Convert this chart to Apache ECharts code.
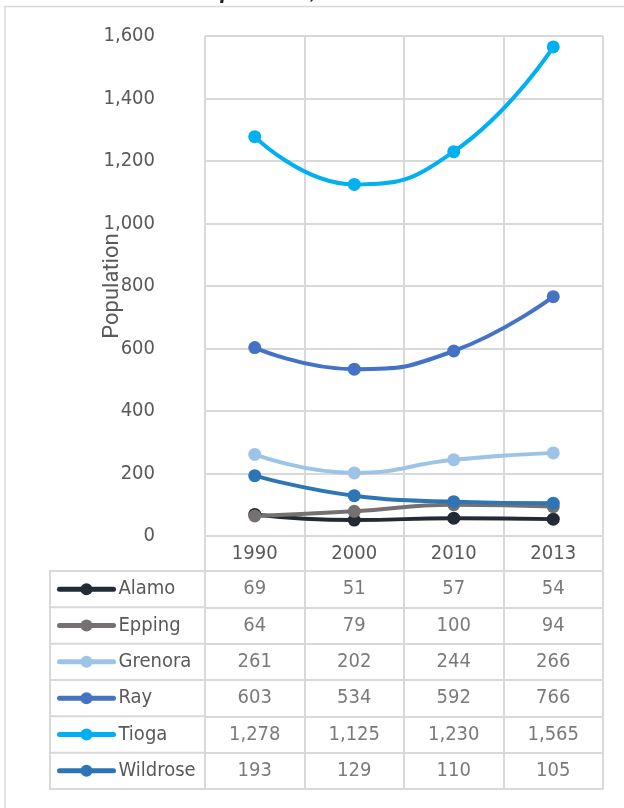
<!DOCTYPE html>
<html>
<head>
<meta charset="utf-8">
<script src="https://cdn.jsdelivr.net/npm/echarts@6/dist/echarts.min.js"></script>
<style>
  html, body { margin: 0; padding: 0; background: #fff; }
  #chart { width: 624px; height: 808px; }
</style>
</head>
<body>
<div id="chart"></div>
<script>
// data
var years = ['1990', '2000', '2010', '2013'];
var towns = ['Alamo', 'Epping', 'Grenora', 'Ray', 'Tioga', 'Wildrose'];
var alamo = [69, 51, 57, 54];
var epping = [64, 79, 100, 94];
var grenora = [261, 202, 244, 266];
var ray = [603, 534, 592, 766];
var tioga = [1278, 1125, 1230, 1565];
var wildrose = [193, 129, 110, 105];
var yTicks = [0, 200, 400, 600, 800, 1000, 1200, 1400, 1600];

var colors = ['#222a35', '#767171', '#9dc3e6', '#4472c4', '#00b0f0', '#2e75b6'];
var values = [alamo, epping, grenora, ray, tioga, wildrose];

var FONT = "'DejaVu Sans Condensed', 'Liberation Sans Narrow', sans-serif";
var FS = 20;
var GRID_COLOR = '#d9d9d9';
var TEXT_COLOR = '#595959';

// table layout
var tableTop = 571, tableBottom = 789, tableLeft = 50, plotLeft = 205, plotRight = 603;
var rowH = (tableBottom - tableTop) / towns.length;

var chart = echarts.init(document.getElementById('chart'));

var lineSeries = towns.map(function (name, i) {
  return {
    name: name,
    type: 'line',
    xAxisIndex: 0,
    yAxisIndex: 0,
    smooth: true,
    data: values[i],
    symbol: 'circle',
    symbolSize: 13,
    lineStyle: { width: 4, color: colors[i] },
    itemStyle: { color: colors[i] },
    emphasis: { disabled: true }
  };
});

var cells = [];
towns.forEach(function (name, r) {
  years.forEach(function (yr, c) {
    cells.push([yr, name, values[r][c]]);
  });
});

var graphics = [
  // outer frame
  { type: 'rect', shape: { x: 5, y: 6.5, width: 640, height: 820 },
    style: { fill: 'none', stroke: GRID_COLOR, lineWidth: 1.5 }, silent: true },
  // legend column box
  { type: 'rect', shape: { x: tableLeft, y: tableTop, width: plotLeft - tableLeft, height: tableBottom - tableTop },
    style: { fill: 'none', stroke: GRID_COLOR, lineWidth: 2 }, silent: true }
];
for (var i = 1; i < towns.length; i++) {
  graphics.push({
    type: 'line',
    shape: { x1: tableLeft, y1: tableTop + i * rowH, x2: plotLeft, y2: tableTop + i * rowH },
    style: { stroke: GRID_COLOR, lineWidth: 2 },
    silent: true
  });
}

chart.setOption({
  animation: false,
  textStyle: { fontFamily: FONT },
  title: {
    text: 'Population, 1990-2013',
    left: 'center',
    top: -25,
    textStyle: { fontFamily: 'Liberation Sans', fontStyle: 'italic', fontWeight: 'bold', fontSize: 23, color: '#222' }
  },
  legend: {
    data: towns,
    orient: 'vertical',
    left: 57,
    top: tableTop,
    padding: 0,
    itemGap: 0,
    itemWidth: 54,
    itemHeight: 15,
    selectedMode: false,
    lineStyle: { width: 5, cap: 'round' },
    textStyle: { fontFamily: FONT, fontSize: FS, color: TEXT_COLOR, lineHeight: rowH, height: rowH }
  },
  grid: [
    { left: plotLeft, right: 624 - plotRight, top: 36, bottom: 808 - 536 },
    { left: plotLeft, right: 624 - plotRight, top: tableTop, height: tableBottom - tableTop }
  ],
  xAxis: [
    {
      type: 'category',
      gridIndex: 0,
      data: years,
      boundaryGap: true,
      axisLine: { show: true, lineStyle: { color: GRID_COLOR, width: 2 } },
      axisTick: { show: true, length: 35, interval: 0, lineStyle: { color: GRID_COLOR, width: 2 } },
      axisLabel: { fontSize: FS, color: TEXT_COLOR, margin: 8, fontFamily: FONT },
      splitLine: { show: true, interval: 0, lineStyle: { color: GRID_COLOR, width: 2 } }
    },
    {
      type: 'category',
      gridIndex: 1,
      data: years,
      position: 'top',
      axisLine: { show: true, lineStyle: { color: GRID_COLOR, width: 2 } },
      axisTick: { show: false },
      axisLabel: { show: false },
      splitLine: { show: true, interval: 0, lineStyle: { color: GRID_COLOR, width: 2 } }
    }
  ],
  yAxis: [
    {
      type: 'value',
      gridIndex: 0,
      min: yTicks[0],
      max: yTicks[yTicks.length - 1],
      interval: 200,
      name: 'Population',
      nameLocation: 'middle',
      nameGap: 82,
      nameMoveOverlap: false,
      nameTextStyle: { fontFamily: 'Roboto', fontSize: 22, color: TEXT_COLOR },
      axisLine: { show: false },
      axisTick: { show: false },
      axisLabel: {
        fontSize: FS,
        color: TEXT_COLOR,
        margin: 50,
        fontFamily: FONT,
        formatter: function (v) { return v.toLocaleString('en-US'); }
      },
      splitLine: { show: true, lineStyle: { color: GRID_COLOR, width: 2 } }
    },
    {
      type: 'category',
      gridIndex: 1,
      data: towns,
      inverse: true,
      axisLine: { show: true, lineStyle: { color: GRID_COLOR, width: 2 } },
      axisTick: { show: false },
      axisLabel: { show: false },
      splitLine: { show: true, interval: 0, lineStyle: { color: GRID_COLOR, width: 2 } }
    }
  ],
  series: lineSeries.concat([{
    name: 'table',
    type: 'scatter',
    xAxisIndex: 1,
    yAxisIndex: 1,
    data: cells,
    symbolSize: 1,
    itemStyle: { color: 'transparent' },
    silent: true,
    label: {
      show: true,
      position: 'inside',
      fontSize: FS,
      color: TEXT_COLOR,
      fontFamily: FONT,
      formatter: function (p) { return p.value[2].toLocaleString('en-US'); }
    }
  }]),
  graphic: graphics
});
</script>
</body>
</html>
